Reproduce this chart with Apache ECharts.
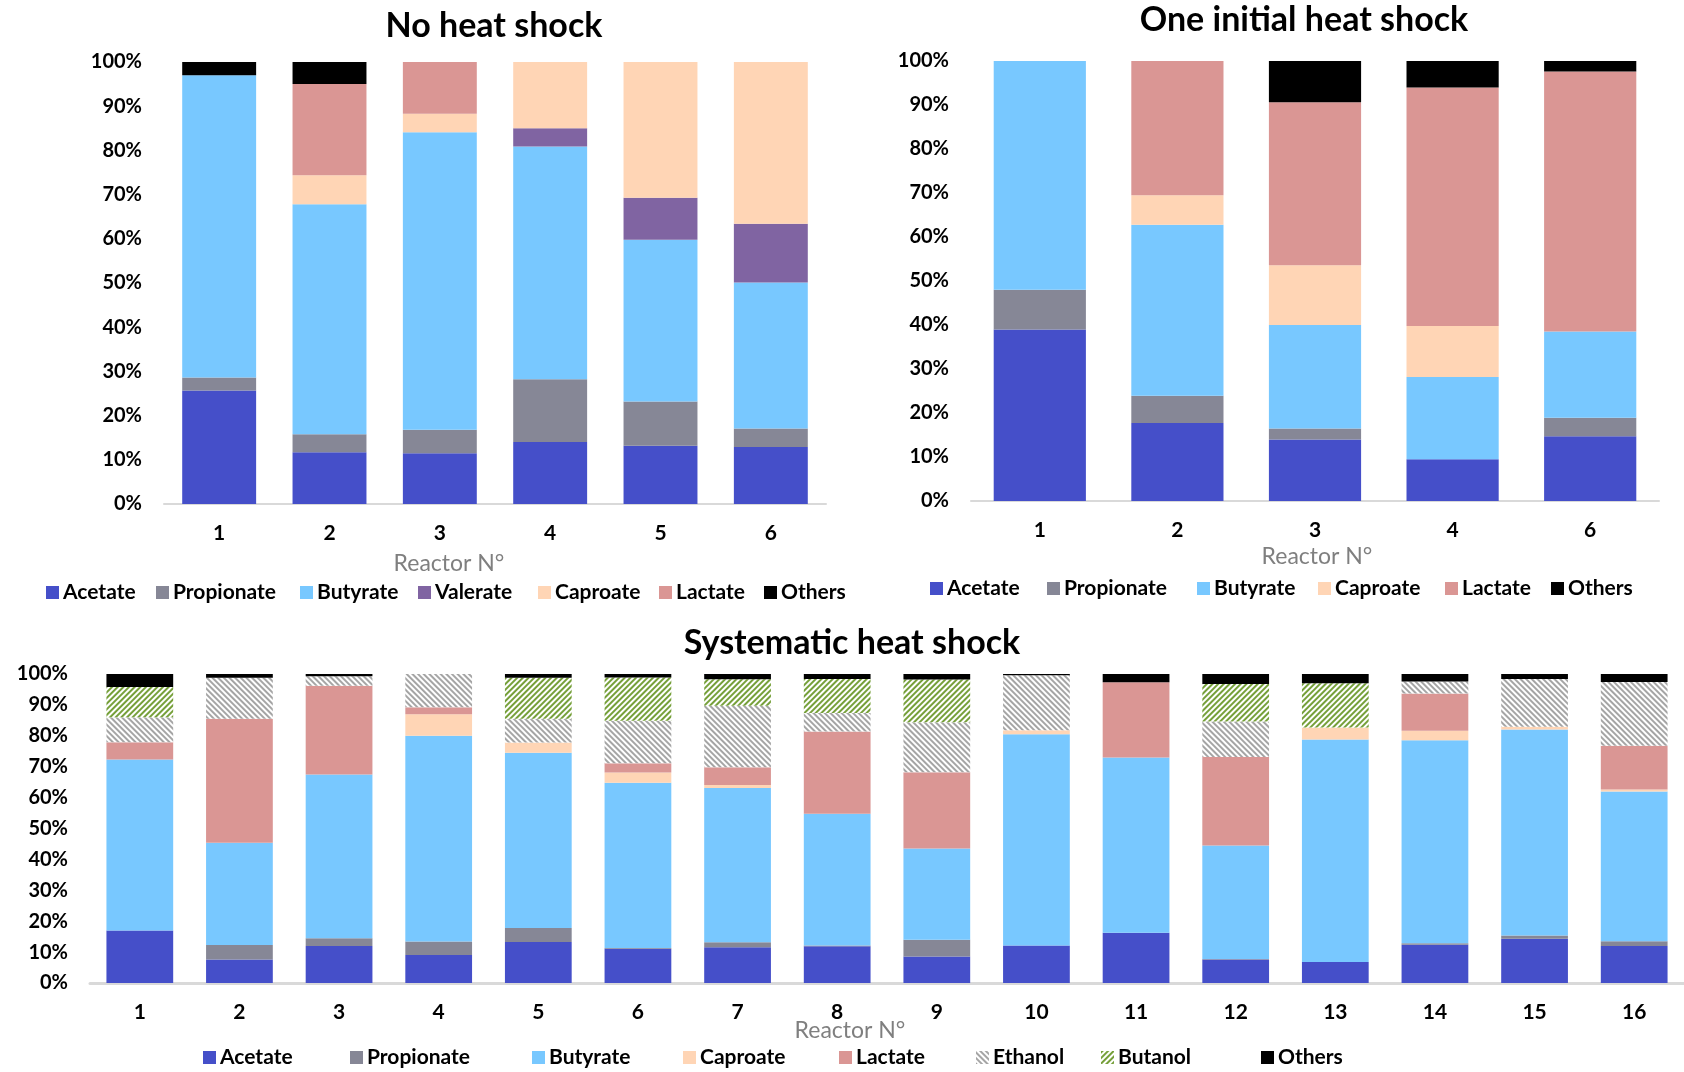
<!DOCTYPE html>
<html>
<head>
<meta charset="utf-8">
<title>Heat shock reactors</title>
<script src="https://cdn.jsdelivr.net/npm/echarts@6/dist/echarts.min.js"></script>
<style>
  html, body { margin: 0; padding: 0; background: #fff; }
  #chart { width: 1684px; height: 1072px; }
</style>
</head>
<body>
<div id="chart"></div>
<script>
// ---- No heat shock (% of products)
const nhsReactors = ['1', '2', '3', '4', '5', '6'];
const nhsAcetate = [25.7, 11.7, 11.5, 14.0, 13.2, 12.9];
const nhsPropionate = [2.9, 4.1, 5.3, 14.2, 10.0, 4.2];
const nhsButyrate = [68.4, 52.0, 67.3, 52.7, 36.6, 33.0];
const nhsValerate = [0, 0, 0, 4.1, 9.5, 13.3];
const nhsCaproate = [0, 6.6, 4.2, 15.0, 30.7, 36.6];
const nhsLactate = [0, 20.6, 11.7, 0, 0, 0];
const nhsOthers = [3.0, 5.0, 0, 0, 0, 0];

// ---- One initial heat shock
const oihReactors = ['1', '2', '3', '4', '6'];
const oihAcetate = [39.0, 17.7, 14.0, 9.5, 14.7];
const oihPropionate = [9.0, 6.2, 2.5, 0, 4.2];
const oihButyrate = [52.0, 38.9, 23.5, 18.7, 19.6];
const oihCaproate = [0, 6.7, 13.6, 11.6, 0];
const oihLactate = [0, 30.5, 37.0, 54.2, 59.1];
const oihOthers = [0, 0, 9.4, 6.0, 2.4];

// ---- Systematic heat shock
const sysReactors = ['1', '2', '3', '4', '5', '6', '7', '8', '9', '10', '11', '12', '13', '14', '15', '16'];
const sysAcetate = [17.0, 7.6, 12.0, 9.1, 13.3, 11.1, 11.6, 11.9, 8.6, 12.1, 16.3, 7.6, 6.8, 12.4, 14.3, 12.0];
const sysPropionate = [0, 4.7, 2.5, 4.3, 4.5, 0.2, 1.6, 0.2, 5.4, 0, 0, 0.2, 0, 0.5, 1.1, 1.5];
const sysButyrate = [55.3, 33.1, 53.0, 66.6, 56.7, 53.5, 49.9, 42.7, 29.5, 68.4, 56.7, 36.7, 72.0, 65.7, 66.6, 48.5];
const sysCaproate = [0, 0, 0, 7.0, 3.3, 3.3, 1.0, 0, 0, 1.3, 0, 0, 3.9, 3.0, 0.9, 0.6];
const sysLactate = [5.6, 40.1, 28.7, 2.2, 0, 3.0, 5.7, 26.6, 24.7, 0, 24.3, 28.6, 0, 12.1, 0, 14.2];
const sysEthanol = [8.1, 13.3, 3.1, 10.8, 7.7, 13.8, 19.9, 6.0, 16.2, 17.8, 0, 11.5, 0, 3.9, 15.5, 20.6];
const sysButanol = [9.8, 0, 0, 0, 13.3, 14.0, 8.6, 11.0, 13.8, 0, 0, 12.2, 14.3, 0, 0, 0];
const sysOthers = [4.2, 1.2, 0.7, 0, 1.2, 1.1, 1.7, 1.6, 1.8, 0.4, 2.7, 3.2, 3.0, 2.4, 1.6, 2.6];

const FONT = 'Lato';

const colors = {
  Acetate: '#454fc9',
  Propionate: '#868796',
  Butyrate: '#78c8ff',
  Valerate: '#8064a2',
  Caproate: '#ffd5b5',
  Lactate: '#da9694',
  Ethanol: '#ffffff',
  Butanol: '#ffffff',
  Others: '#000000'
};

// hatched fills
const decals = {
  Ethanol: {
    symbol: 'rect', symbolSize: 1, color: '#a5a5a5',
    dashArrayX: [1, 0], dashArrayY: [2, 2], rotation: Math.PI / 4
  },
  Butanol: {
    symbol: 'rect', symbolSize: 1, color: '#76a03a',
    dashArrayX: [1, 0], dashArrayY: [2, 2], rotation: -Math.PI / 4
  }
};

const chart = echarts.init(document.getElementById('chart'));

function makeSeries(idx, list) {
  return list.map(([name, data]) => ({
    name: name,
    type: 'bar',
    stack: 'g' + idx,
    xAxisIndex: idx,
    yAxisIndex: idx,
    barCategoryGap: '33%',
    itemStyle: {
      color: colors[name],
      decal: decals[name] || null
    },
    emphasis: { disabled: true },
    data: data
  }));
}

const series = [].concat(
  makeSeries(0, [
    ['Acetate', nhsAcetate], ['Propionate', nhsPropionate], ['Butyrate', nhsButyrate],
    ['Valerate', nhsValerate], ['Caproate', nhsCaproate], ['Lactate', nhsLactate], ['Others', nhsOthers]
  ]),
  makeSeries(1, [
    ['Acetate', oihAcetate], ['Propionate', oihPropionate], ['Butyrate', oihButyrate],
    ['Caproate', oihCaproate], ['Lactate', oihLactate], ['Others', oihOthers]
  ]),
  makeSeries(2, [
    ['Acetate', sysAcetate], ['Propionate', sysPropionate], ['Butyrate', sysButyrate],
    ['Caproate', sysCaproate], ['Lactate', sysLactate], ['Ethanol', sysEthanol],
    ['Butanol', sysButanol], ['Others', sysOthers]
  ])
);

const grids = [
  { left: 164, top: 62, width: 662, height: 442 },
  { left: 971, top: 61, width: 688, height: 440 },
  { left: 90, top: 674, width: 1605, height: 309 }
];

function yAxis(idx) {
  return {
    gridIndex: idx, type: 'value', min: 0, max: 100, interval: 10,
    axisLine: { show: false }, axisTick: { show: false }, splitLine: { show: false },
    axisLabel: {
      formatter: '{value}%', fontFamily: FONT, fontWeight: 'bold',
      fontSize: 20, color: '#000', margin: 22
    }
  };
}

function xAxis(idx, cats, lw) {
  return {
    gridIndex: idx, type: 'category', data: cats,
    axisTick: { show: false },
    axisLine: { lineStyle: { color: '#d9d9d9', width: lw } },
    axisLabel: { fontFamily: FONT, fontWeight: 'bold', fontSize: 21, color: '#000', margin: 19 }
  };
}

// legend items placed one by one like the original
const legendItems = [
  ['Acetate', 46, 582], ['Propionate', 156, 582], ['Butyrate', 300, 582], ['Valerate', 418, 582],
  ['Caproate', 538, 582], ['Lactate', 659, 582], ['Others', 764, 582],
  ['Acetate', 930, 578], ['Propionate', 1047, 578], ['Butyrate', 1197, 578],
  ['Caproate', 1318, 578], ['Lactate', 1445, 578], ['Others', 1551, 578],
  ['Acetate', 203, 1047], ['Propionate', 350, 1047], ['Butyrate', 532, 1047], ['Caproate', 683, 1047],
  ['Lactate', 839, 1047], ['Ethanol', 976, 1047], ['Butanol', 1101, 1047], ['Others', 1261, 1047]
];

const legend = legendItems.map(([name, x, y]) => ({
  data: [name],
  left: x,
  top: y,
  padding: 0,
  icon: 'rect',
  itemWidth: 13,
  itemHeight: 13,
  selectedMode: false,
  textStyle: { fontFamily: FONT, fontWeight: 'bold', fontSize: 21, color: '#000', padding: [0, 0, 0, -1] }
}));

function label(text, x, y, size, weight, color) {
  return {
    type: 'text', x: x, y: y,
    style: {
      text: text, fill: color, align: 'center', verticalAlign: 'middle',
      font: weight + ' ' + size + 'px ' + FONT
    }
  };
}

chart.setOption({
  animation: false,
  backgroundColor: '#fff',
  grid: grids,
  xAxis: [xAxis(0, nhsReactors, 2), xAxis(1, oihReactors, 2), xAxis(2, sysReactors, 3)],
  yAxis: [yAxis(0), yAxis(1), yAxis(2)],
  legend: legend,
  graphic: [
    label('No heat shock', 494, 26, 34, 'bold', '#000'),
    label('One initial heat shock', 1304, 20, 34, 'bold', '#000'),
    label('Systematic heat shock', 852, 643, 34, 'bold', '#000'),
    label('Reactor N°', 449, 564, 23, 'normal', '#7f7f7f'),
    label('Reactor N°', 1317, 557, 23, 'normal', '#7f7f7f'),
    label('Reactor N°', 850, 1031, 23, 'normal', '#7f7f7f')
  ],
  series: series
});
</script>
</body>
</html>
